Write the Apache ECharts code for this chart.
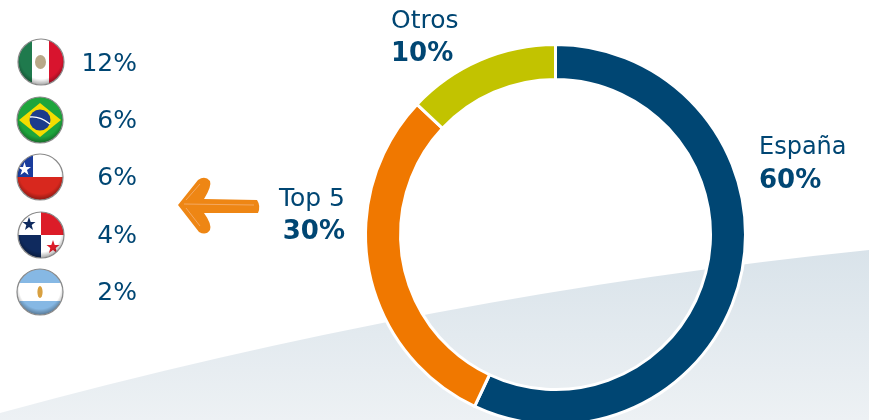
<!DOCTYPE html>
<html>
<head>
<meta charset="utf-8">
<style>html,body{margin:0;padding:0;background:#fff}#chart{width:869px;height:420px}</style>
<script src="https://cdn.jsdelivr.net/npm/echarts@6/dist/echarts.min.js"></script>
</head>
<body>
<div id="chart"></div>
<script>
// arcs as measured on the picture, the printed labels round them differently
const names = ['España', 'Top 5', 'Otros']
const arcShares = [57, 30, 13]
const printedLabels = ['60%', '30%', '10%']
const colors = ['#004673', '#f07800', '#c2c300']

const countries = ['mx', 'br', 'cl', 'pa', 'ar']
const countryLabels = ['12%', '6%', '6%', '4%', '2%']

const font = 'DejaVu Sans'
const textColor = '#004673'

const svgUri = (w, h, body) => 'data:image/svg+xml;utf8,' + encodeURIComponent(
  '<svg xmlns="http://www.w3.org/2000/svg" width="' + w + '" height="' + h + '" viewBox="0 0 ' + w + ' ' + h + '">' + body + '</svg>')

const flagArt = {
  mx: '<rect width="15" height="48" fill="#1f7a4d"/><rect x="15" width="17" height="48" fill="#fff"/><rect x="32" width="16" height="48" fill="#d8142e"/><ellipse cx="23.5" cy="24" rx="5.5" ry="7" fill="#b8a888"/>',
  br: '<rect width="48" height="48" fill="#1ea53c"/><path d="M24 7 L45 24 L24 41 L3 24Z" fill="#f5dc00"/><circle cx="24" cy="24" r="10.5" fill="#1c3c8c"/><path d="M14 21 Q24 20 34 28" stroke="#fff" stroke-width="1.4" fill="none"/>',
  cl: '<rect width="48" height="48" fill="#fff"/><rect y="24" width="48" height="24" fill="#d8281e"/><rect width="17" height="24" fill="#1a3c9c"/><path d="M8.5 9 L10 14 L15 14 L11 17 L12.5 22 L8.5 19 L4.5 22 L6 17 L2 14 L7 14Z" fill="#fff"/>',
  pa: '<rect width="48" height="48" fill="#fff"/><rect x="24" width="24" height="24" fill="#dc1c28"/><rect y="24" width="24" height="24" fill="#0f2a5e"/><path d="M12 6 L13.7 11 L18.5 11 L14.7 14 L16 19 L12 16 L8 19 L9.3 14 L5.5 11 L10.3 11Z" fill="#0f2a5e"/><path d="M36 29 L37.7 34 L42.5 34 L38.7 37 L40 42 L36 39 L32 42 L33.3 37 L29.5 34 L34.3 34Z" fill="#dc1c28"/>',
  ar: '<rect width="48" height="48" fill="#86b8e4"/><rect y="15" width="48" height="18" fill="#fff"/><ellipse cx="24" cy="24" rx="2.6" ry="6" fill="#d8a040"/>'
}

const flagUri = (code) => svgUri(48, 48,
  '<defs><clipPath id="c"><circle cx="24" cy="24" r="23"/></clipPath>' +
  '<radialGradient id="s" cx="0.5" cy="0.42" r="0.56"><stop offset="0.8" stop-color="#000" stop-opacity="0"/><stop offset="1" stop-color="#000" stop-opacity="0.3"/></radialGradient></defs>' +
  '<g clip-path="url(#c)">' + flagArt[code] + '<circle cx="24" cy="24" r="23" fill="url(#s)"/></g>' +
  '<circle cx="24" cy="24" r="23" fill="none" stroke="#8a8a8a" stroke-width="1.2"/>')

const bandUri = svgUri(869, 420,
  '<defs><linearGradient id="g" x1="0" y1="0" x2="0" y2="1"><stop offset="0" stop-color="#d9e3ea"/><stop offset="1" stop-color="#edf1f4"/></linearGradient></defs>' +
  '<path d="M0 413 Q434 294.5 869 250 L869 420 L0 420Z" fill="url(#g)"/>')

// hand drawn arrow towards the country list
const arrowUri = svgUri(869, 420,
  '<path d="M178 205 L198 180 Q205 175 210 181 Q212 186 204 199 L257 200 Q261 206 258 213 L204 213 Q212 224 210 230 Q206 236 199 232 Z" fill="#ee8614"/>' +
  '<path d="M184 204 L254 205 M186 208 L200 226 M186 200 L200 184" stroke="#f4a860" stroke-width="1" fill="none"/>')

const graphics = [
  { type: 'image', z: -1, style: { image: bandUri, x: 0, y: 0, width: 869, height: 420 } },
  { type: 'image', style: { image: arrowUri, x: 0, y: 0, width: 869, height: 420 } }
]

const flagYs = [62, 120, 177, 235, 292]
const flagXs = [41, 40, 40, 41, 40]
const countryTextYs = [64, 121, 178, 236, 293]
countries.forEach((code, i) => {
  graphics.push({
    type: 'image',
    style: { image: flagUri(code), x: flagXs[i] - 24, y: flagYs[i] - 24, width: 48, height: 48 }
  })
  graphics.push({
    type: 'text',
    style: { text: countryLabels[i], x: 137, y: countryTextYs[i], align: 'right', verticalAlign: 'middle', font: '25px "' + font + '"', fill: textColor }
  })
})

const labelSpots = [
  { x: 759, y: 148, align: 'left', size: 24 },
  { x: 345, y: 199, align: 'right', size: 25 },
  { x: 391, y: 21, align: 'left', size: 25 }
]
names.forEach((name, i) => {
  const s = labelSpots[i]
  graphics.push({
    type: 'text',
    style: { text: name, x: s.x, y: s.y, align: s.align, verticalAlign: 'middle', font: s.size + 'px "' + font + '"', fill: textColor }
  })
  graphics.push({
    type: 'text',
    style: { text: printedLabels[i], x: s.x, y: s.y + 33, align: s.align, verticalAlign: 'middle', font: 'bold 26px "' + font + '"', fill: textColor }
  })
})

const chart = echarts.init(document.getElementById('chart'), null, { renderer: 'canvas' })
chart.setOption({
  animation: false,
  backgroundColor: '#ffffff',
  graphic: graphics,
  series: [{
    type: 'pie',
    center: [555.5, 234.5],
    radius: [155, 190],
    startAngle: 90,
    clockwise: true,
    silent: true,
    label: { show: false },
    labelLine: { show: false },
    itemStyle: { borderColor: '#ffffff', borderWidth: 3 },
    data: names.map((name, i) => ({ name, value: arcShares[i], itemStyle: { color: colors[i] } }))
  }]
})
</script>
</body>
</html>
